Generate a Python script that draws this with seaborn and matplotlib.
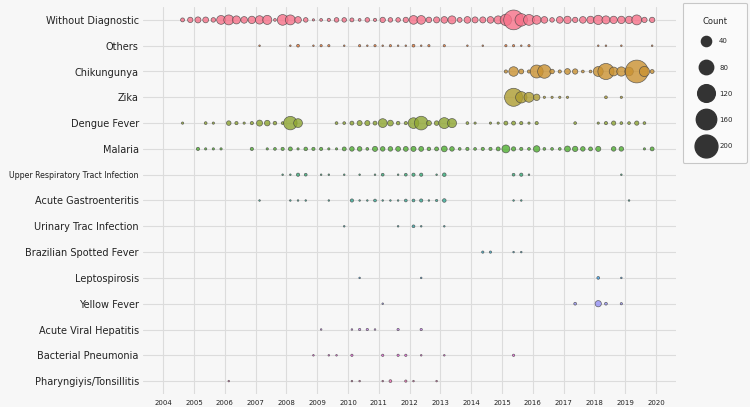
import numpy as np
import pandas as pd
import matplotlib
matplotlib.use("Agg")
import matplotlib.pyplot as plt
from matplotlib.lines import Line2D
import seaborn as sns

# ---------------- data (quarterly counts) ----------------
categories = [
    "Without Diagnostic", "Others", "Chikungunya", "Zika", "Dengue Fever",
    "Malaria", "Upper Respiratory Tract Infection", "Acute Gastroenteritis",
    "Urinary Trac Infection", "Brazilian Spotted Fever", "Leptospirosis",
    "Yellow Fever", "Acute Viral Hepatitis", "Bacterial Pneumonia",
    "Pharyngiyis/Tonsillitis",
]

without_q = [f"{y}Q{q}" for y in range(2004, 2020) for q in range(1, 5)][2:]
without_n = [6, 11,
             14, 13, 8, 30,
             38, 25, 17, 21,
             27, 32, 3, 44,
             38, 17, 8, 2,
             3, 4, 8, 8,
             6, 3, 8, 4,
             11, 8, 8, 11,
             29, 29, 12, 14,
             17, 25, 9, 17,
             14, 14, 17, 25,
             50, 150, 60, 45,
             29, 17, 8, 17,
             21, 11, 17, 21,
             33, 25, 21, 21,
             21, 38, 11, 11]

others_q = ["2007Q1", "2008Q1", "2008Q2", "2008Q4", "2009Q1", "2009Q2", "2009Q4",
            "2010Q2", "2010Q3", "2010Q4", "2011Q1", "2011Q2", "2011Q3", "2011Q4",
            "2012Q1", "2012Q2", "2012Q3", "2013Q1", "2013Q4", "2014Q2", "2015Q1",
            "2015Q2", "2015Q3", "2015Q4", "2018Q1", "2018Q2", "2018Q4", "2019Q4"]
others_n = [1, 1, 3, 1, 2, 2, 1, 2, 1, 2, 1, 2, 1, 1, 3, 1, 2, 2, 1, 1, 2, 2, 1, 2,
            1, 1, 1, 1]

chik_q = ["2015Q1", "2015Q2", "2015Q3", "2015Q4", "2016Q1", "2016Q2", "2016Q3",
          "2016Q4", "2017Q1", "2017Q2", "2017Q3", "2017Q4", "2018Q1", "2018Q2",
          "2018Q3", "2018Q4", "2019Q1", "2019Q2", "2019Q3", "2019Q4"]
chik_n = [4, 35, 9, 4, 65, 70, 8, 4, 13, 11, 3, 3, 38, 100, 30, 33, 28, 220, 40, 6]

zika_q = ["2015Q2", "2015Q3", "2015Q4", "2016Q1", "2016Q2", "2016Q3", "2016Q4",
          "2017Q1", "2018Q2", "2018Q4"]
zika_n = [125, 50, 38, 16, 2, 2, 2, 2, 3, 2]

dengue_q = ["2004Q3", "2005Q2", "2005Q3", "2006Q1", "2006Q2", "2006Q3", "2006Q4",
            "2007Q1", "2007Q2", "2007Q3", "2007Q4", "2008Q1", "2008Q2", "2009Q3",
            "2009Q4", "2010Q1", "2010Q2", "2010Q3", "2010Q4", "2011Q1", "2011Q2",
            "2011Q3", "2011Q4", "2012Q1", "2012Q2", "2012Q3", "2012Q4", "2013Q1",
            "2013Q2", "2013Q4", "2014Q1", "2014Q3", "2014Q4", "2015Q1", "2015Q2",
            "2015Q3", "2015Q4", "2016Q1", "2017Q2", "2018Q1", "2018Q2", "2018Q3",
            "2018Q4", "2019Q1", "2019Q2", "2019Q3"]
dengue_n = [2, 3, 2, 8, 4, 2, 4, 14, 12, 5, 3, 70, 30, 3, 3, 6, 10, 10, 6, 30, 13,
            5, 4, 44, 72, 10, 8, 46, 32, 3, 2, 2, 2, 6, 6, 4, 2, 4, 3, 2, 4, 7, 3,
            3, 7, 3]

malaria_q = ["2005Q1", "2005Q2", "2005Q3", "2005Q4", "2006Q4", "2007Q2", "2007Q3",
             "2007Q4", "2008Q1", "2008Q2", "2008Q3", "2008Q4", "2009Q1", "2009Q2",
             "2009Q3", "2009Q4", "2010Q1", "2010Q2", "2010Q3", "2010Q4", "2011Q1",
             "2011Q2", "2011Q3", "2011Q4", "2012Q1", "2012Q2", "2012Q3", "2012Q4",
             "2013Q1", "2013Q2", "2013Q3", "2013Q4", "2014Q1", "2014Q2", "2014Q3",
             "2014Q4", "2015Q1", "2015Q2", "2015Q3", "2015Q4", "2016Q1", "2016Q2",
             "2016Q3", "2016Q4", "2017Q1", "2017Q2", "2017Q3", "2017Q4", "2018Q1",
             "2018Q3", "2018Q4", "2019Q3", "2019Q4"]
malaria_n = [4, 2, 2, 2, 4, 2, 3, 4, 6, 2, 5, 4, 4, 2, 2, 6, 8, 8, 3, 10, 8, 8, 9,
             9, 10, 9, 5, 6, 13, 8, 3, 4, 3, 4, 4, 6, 24, 7, 4, 3, 16, 3, 3, 3, 13,
             11, 8, 6, 10, 8, 8, 2, 6]

urti_q = ["2007Q4", "2008Q1", "2008Q2", "2008Q3", "2009Q1", "2009Q2", "2009Q4",
          "2010Q2", "2010Q4", "2011Q1", "2011Q3", "2011Q4", "2012Q1", "2012Q2",
          "2012Q4", "2013Q1", "2015Q2", "2015Q3", "2015Q4", "2018Q4"]
urti_n = [1, 1, 4, 3, 1, 1, 1, 1, 1, 3, 1, 3, 4, 4, 1, 5, 3, 4, 1, 1]

gastro_q = ["2007Q1", "2008Q1", "2008Q2", "2008Q3", "2009Q2", "2010Q1", "2010Q2",
            "2010Q3", "2010Q4", "2011Q1", "2011Q2", "2011Q3", "2011Q4", "2012Q1",
            "2012Q2", "2012Q3", "2012Q4", "2013Q1", "2015Q2", "2015Q3", "2019Q1"]
gastro_n = [1, 1, 1, 1, 1, 4, 1, 1, 3, 1, 1, 1, 3, 3, 4, 1, 2, 5, 1, 1, 1]

urinary_q = ["2009Q4", "2011Q3", "2012Q1", "2012Q2", "2013Q1"]
urinary_n = [1, 1, 3, 1, 1]

spotted_q = ["2014Q2", "2014Q3", "2015Q2", "2015Q3"]
spotted_n = [2, 2, 1, 1]

lepto_q = ["2010Q2", "2012Q2", "2018Q1", "2018Q4"]
lepto_n = [1, 1, 3, 1]

yellow_q = ["2011Q1", "2017Q2", "2018Q1", "2018Q2", "2018Q4"]
yellow_n = [1, 3, 15, 3, 2]

hepatitis_q = ["2009Q1", "2010Q1", "2010Q2", "2010Q3", "2010Q4", "2011Q3", "2012Q2"]
hepatitis_n = [1, 1, 2, 2, 1, 2, 2]

pneumonia_q = ["2008Q4", "2009Q2", "2009Q3", "2010Q1", "2011Q1", "2011Q3", "2011Q4",
               "2012Q2", "2013Q1", "2015Q2"]
pneumonia_n = [1, 1, 1, 2, 2, 2, 2, 1, 1, 2]

tonsil_q = ["2006Q1", "2010Q1", "2010Q2", "2011Q1", "2011Q2", "2011Q4", "2012Q1",
            "2012Q4"]
tonsil_n = [1, 1, 1, 1, 3, 2, 1, 1]

year_ticks = list(range(2004, 2021))
legend_counts = [40, 80, 120, 160, 200]

series = [
    (without_q, without_n), (others_q, others_n), (chik_q, chik_n),
    (zika_q, zika_n), (dengue_q, dengue_n), (malaria_q, malaria_n),
    (urti_q, urti_n), (gastro_q, gastro_n), (urinary_q, urinary_n),
    (spotted_q, spotted_n), (lepto_q, lepto_n), (yellow_q, yellow_n),
    (hepatitis_q, hepatitis_n), (pneumonia_q, pneumonia_n), (tonsil_q, tonsil_n),
]

rows = []
for cat, (qs, ns) in zip(categories, series):
    for p, n in zip(qs, ns):
        y, q = int(p[:4]), int(p[-1])
        rows.append({"disease": cat, "time": y + (q - 0.5) / 4.0, "count": n})
df = pd.DataFrame(rows)

# ---------------- style ----------------
BG = "#f7f7f7"
GRID = "#dcdcdc"
TXT = "#222222"
sns.set_theme(style="whitegrid")
plt.rcParams["font.family"] = ["DejaVu Sans"]

fig = plt.figure(figsize=(7.5, 4.07), dpi=100, facecolor=BG)
ax = fig.add_axes([143 / 750, 1 - 394 / 407, (676 - 143) / 750, (394 - 7) / 407])
ax.set_facecolor(BG)

palette = sns.color_palette("husl", len(categories))
K = 1.35  # points^2 per count
sns.scatterplot(
    data=df, x="time", y="disease", hue="disease", hue_order=categories,
    palette=palette, size="count", sizes=(0, 200 * K), size_norm=(0, 200),
    alpha=0.8, edgecolor="#444444", linewidth=0.5, legend=False, ax=ax, zorder=3,
)

ax.set_ylim(len(categories) - 0.5, -0.5)
ax.set_xlim(2003.34, 2020.65)
ax.set_xticks(year_ticks)
ax.set_xticklabels([str(y) for y in year_ticks])
ax.set_xlabel("")
ax.set_ylabel("")
ax.grid(True, color=GRID, linewidth=0.8)
ax.set_axisbelow(True)
for s in ax.spines.values():
    s.set_visible(False)
ax.tick_params(axis="x", length=0, pad=4, labelsize=5, colors=TXT)
ax.tick_params(axis="y", length=0, pad=3, labelsize=7, colors=TXT)

handles = [Line2D([], [], marker="o", linestyle="", markersize=np.sqrt(K * c),
                  markerfacecolor="#333333", markeredgecolor="#333333")
           for c in legend_counts]
leg = ax.legend(handles, [str(c) for c in legend_counts], title="Count",
                loc="upper left", bbox_to_anchor=(683 / 750, 1 - 3 / 407),
                bbox_transform=fig.transFigure, fontsize=5, title_fontsize=6,
                frameon=True, labelspacing=2.9, borderpad=2.0, handlelength=2.6,
                handletextpad=0.6, borderaxespad=0)
leg.get_frame().set_facecolor("#fbfbfb")
leg.get_frame().set_edgecolor("#bbbbbb")
leg.get_frame().set_linewidth(0.8)
leg._legend_box.sep = 9

# shrink any category label that would not fit left of the axes
fig.canvas.draw()
renderer = fig.canvas.get_renderer()
max_w = 130.0
for lab in ax.get_yticklabels():
    w = lab.get_window_extent(renderer).width
    if w > max_w:
        lab.set_fontsize(lab.get_fontsize() * max_w / w)

fig.savefig("out.png", dpi=100, facecolor=BG)
